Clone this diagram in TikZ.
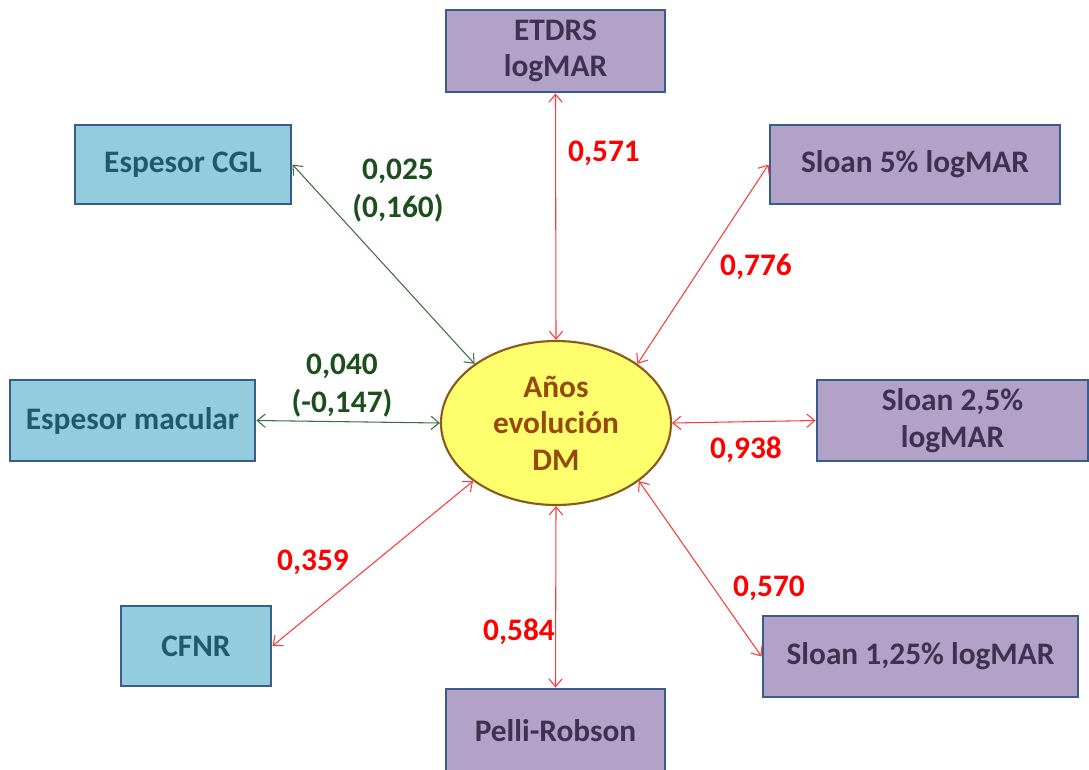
\documentclass[tikz,border=0pt]{standalone}
\usepackage{fontspec}
\setmainfont{Carlito}
\usetikzlibrary{arrows.meta,shapes.geometric,calc}

\definecolor{boxblue}{HTML}{93CDDD}
\definecolor{boxpurple}{HTML}{B3A2C7}
\definecolor{boxedge}{HTML}{385D8A}
\definecolor{bluetext}{HTML}{215968}
\definecolor{purpletext}{HTML}{3F3151}
\definecolor{ellfill}{HTML}{FFFF6E}
\definecolor{elledge}{HTML}{8C5A1E}
\definecolor{elltext}{HTML}{984807}
\definecolor{greentext}{HTML}{1D4F1D}
\definecolor{greenline}{HTML}{3F6F3F}
\definecolor{redline}{HTML}{FF3B3B}
\definecolor{redtext}{HTML}{FF0000}

\begin{document}
\begin{tikzpicture}[x=0.75pt,y=-0.75pt,
  every node/.style={font=\fontsize{23.5}{27.5}\selectfont\bfseries, align=center},
  box/.style={rectangle, draw=boxedge, line width=2.2pt, inner sep=0pt},
  bluebox/.style={box, fill=boxblue, text=bluetext},
  purplebox/.style={box, fill=boxpurple, text=purpletext},
  center/.style={ellipse, draw=elledge, line width=1.6pt, fill=ellfill, text=elltext,
    inner sep=0pt, minimum width=172.5pt, minimum height=123pt},
  redlink/.style={draw=redline, line width=0.8pt,
    {Straight Barb[length=6pt,width=10pt]}-{Straight Barb[length=6pt,width=10pt]}},
  greenlink/.style={draw=greenline, line width=0.8pt,
    {Straight Barb[length=6pt,width=10pt]}-{Straight Barb[length=6pt,width=10pt]}},
  redlabel/.style={text=redtext},
  greenlabel/.style={text=greentext, font=\fontsize{23.5}{28.5}\selectfont\bfseries}]

\useasboundingbox[clip] (0,0) rectangle (1089,769);

% central variable
\node[center] (dm) at (556,423) {Años\\evolución\\DM};

% visual function tests
\node[purplebox, minimum width=164.25pt, minimum height=61.5pt] (etdrs) at (555.5,51) {ETDRS\\logMAR};
\node[purplebox, minimum width=217.5pt, minimum height=59.25pt] (s5) at (915,164.5) {Sloan 5\% logMAR};
\node[purplebox, minimum width=203.25pt, minimum height=60.75pt] (s25) at (952.5,420.5) {Sloan 2,5\%\\logMAR};
\node[purplebox, minimum width=236.25pt, minimum height=60.75pt] (s125) at (920.5,656.5) {Sloan 1,25\% logMAR};
\node[purplebox, minimum width=164.25pt, minimum height=63pt] (pelli) at (555.5,731) {Pelli-Robson};

% structural measures
\node[bluebox, minimum width=162pt, minimum height=59.25pt] (cgl) at (183,164.5) {Espesor CGL};
\node[bluebox, minimum width=183.75pt, minimum height=60.75pt] (mac) at (132.5,420.5) {Espesor macular};
\node[bluebox, minimum width=112.5pt, minimum height=60pt] (cfnr) at (196,646) {CFNR};

% correlations
\draw[redlink] (etdrs.south) -- (dm.north);
\draw[redlink] (s5.west) -- (dm.36);
\draw[redlink] (s25.west) -- (dm.east);
\draw[redlink] (s125.west) -- (dm.-35);
\draw[redlink] (pelli.north) -- (dm.south);
\draw[redlink] (cfnr.east) -- (dm.215);
\draw[greenlink] (cgl.east) -- (dm.144);
\draw[greenlink] (mac.east) -- (dm.west);

% coefficients
\node[redlabel] (l1) at (604,153) {0,571};
\node[redlabel] (l2) at (756,267) {0,776};
\node[redlabel] (l3) at (746,450) {0,938};
\node[redlabel] (l4) at (769,588) {0,570};
\node[redlabel] (l5) at (519,632) {0,584};
\node[redlabel] (l6) at (313,562) {0,359};
\node[greenlabel] (l7) at (398,191) {0,025\\(0,160)};
\node[greenlabel] (l8) at (342,386) {0,040\\(-0,147)};

\end{tikzpicture}
\end{document}
